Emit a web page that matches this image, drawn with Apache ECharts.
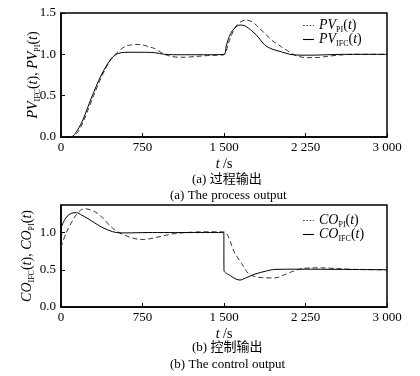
<!DOCTYPE html>
<html>
<head>
<meta charset="utf-8">
<script src="https://cdn.jsdelivr.net/npm/echarts@6/dist/echarts.min.js"></script>
<style>
  html, body { margin: 0; padding: 0; background: #fff; }
  #chart { width: 420px; height: 376px; }
</style>
</head>
<body>
<div id="chart"></div>
<script>
// [t (s), value]
var pvPi = [[0,0],[80,0],[100,0.005],[150,0.05],[200,0.17],[250,0.33],[300,0.5],[350,0.66],[400,0.8],[450,0.92],[500,1.0],[550,1.06],[600,1.1],[650,1.115],[700,1.12],[750,1.115],[800,1.095],[862,1.07],[900,1.04],[954,1.0],[1000,0.98],[1080,0.965],[1140,0.965],[1250,0.975],[1350,0.985],[1450,0.99],[1500,0.995],[1550,1.17],[1600,1.32],[1650,1.39],[1700,1.415],[1750,1.4],[1800,1.35],[1877,1.25],[1950,1.16],[2030,1.09],[2100,1.03],[2153,0.99],[2220,0.965],[2300,0.96],[2370,0.962],[2450,0.975],[2550,0.99],[2700,1.0],[3000,1.0]];
var pvIfc = [[0,0],[95,0],[150,0.08],[202,0.21],[279,0.47],[371,0.75],[463,0.95],[524,1.01],[586,1.024],[700,1.025],[862,1.02],[954,1.0],[1100,0.995],[1300,0.995],[1500,1.0],[1520,1.1],[1560,1.25],[1600,1.32],[1647,1.354],[1700,1.34],[1800,1.23],[1877,1.11],[1950,1.06],[2030,1.03],[2107,1.0],[2200,0.99],[2300,0.99],[2450,0.995],[2600,1.0],[3000,1.0]];
var coPi = [[0,0.8],[49,1.0],[126,1.21],[180,1.3],[218,1.32],[270,1.305],[340,1.254],[400,1.17],[463,1.075],[520,1.01],[586,0.964],[660,0.925],[739,0.906],[810,0.915],[893,0.94],[970,0.965],[1046,0.985],[1150,1.0],[1300,1.01],[1495,1.01],[1601,0.72],[1662,0.585],[1723,0.451],[1780,0.41],[1847,0.395],[1969,0.39],[2050,0.43],[2122,0.473],[2215,0.515],[2300,0.525],[2400,0.526],[2550,0.515],[2700,0.505],[3000,0.5]];
var coIfc = [[0,1.065],[30,1.16],[64,1.23],[100,1.26],[141,1.268],[190,1.235],[248,1.187],[310,1.13],[371,1.075],[440,1.03],[509,1.0],[600,0.995],[800,1.0],[1498,1.0],[1500,0.49],[1560,0.42],[1610,0.375],[1647,0.362],[1700,0.39],[1785,0.442],[1880,0.48],[1969,0.505],[2200,0.508],[2600,0.505],[3000,0.5]];
var xTicks = [0, 750, 1500, 2250, 3000];
var yTicks = [0, 0.5, 1.0, 1.5];

var serif = '"Liberation Serif", "Noto Sans CJK SC", serif';
var rich = {
  i: { fontFamily: serif, fontStyle: 'italic', fontSize: 14, color: '#000', lineHeight: 14 },
  n: { fontFamily: serif, fontSize: 14, color: '#000', lineHeight: 14 },
  s: { fontFamily: serif, fontSize: 8, color: '#000', lineHeight: 14, padding: [9, 0, 0, 0] }
};
function lbl(v, sub) {
  return '{i|' + v + '}{s|' + sub + '}{n|(}{i|t}{n|)}';
}
var legendText = {
  'PV_PI': lbl('PV', 'PI'), 'PV_IFC': lbl('PV', 'IFC'),
  'CO_PI': lbl('CO', 'PI'), 'CO_IFC': lbl('CO', 'IFC')
};
var dotIcon = 'path://M0,0h1.5v1h-1.5z M3,0h1.5v1h-1.5z M6,0h1.5v1h-1.5z M9,0h1v1h-1z';
var solidIcon = 'path://M0,0h10v1h-10z';

function xLabel(v) {
  var s = String(v);
  return s.length > 3 ? s.slice(0, s.length - 3) + ' ' + s.slice(-3) : s;
}

var chart = echarts.init(document.getElementById('chart'));

function xAxis(idx) {
  return {
    gridIndex: idx, type: 'value', min: 0, max: 3000, interval: 750,
    name: '{i|t}{n| /s}', nameLocation: 'middle', nameGap: 20,
    nameTextStyle: { rich: rich },
    axisLine: { lineStyle: { color: '#000', width: 1.5 } },
    axisTick: { inside: true, length: 4, lineStyle: { color: '#000' } },
    axisLabel: { formatter: xLabel, fontFamily: serif, fontSize: 13, color: '#000', margin: 4 },
    splitLine: { show: false }
  };
}
function yAxis(idx, max, name, gap) {
  return {
    gridIndex: idx, type: 'value', min: 0, max: max, interval: 0.5,
    name: name, nameLocation: 'middle', nameGap: gap, nameMoveOverlap: false,
    nameTextStyle: { rich: rich },
    axisLine: { lineStyle: { color: '#000', width: 1.5 } },
    axisTick: { inside: true, length: 4, lineStyle: { color: '#000' } },
    axisLabel: {
      formatter: function (v) { return v.toFixed(1); },
      fontFamily: serif, fontSize: 13, color: '#000', margin: 5,
      showMaxLabel: max === 1.5
    },
    splitLine: { show: false }
  };
}
function line(name, data, idx, dashed) {
  return {
    name: name, type: 'line', data: data, xAxisIndex: idx, yAxisIndex: idx,
    symbol: 'none', smooth: 0.3, animation: false,
    itemStyle: { color: dashed ? '#444' : '#000' },
    lineStyle: { color: dashed ? '#333' : '#000', width: 1, type: dashed ? [5, 3] : 'solid' }
  };
}
function legend(top, names) {
  return {
    data: [{ name: names[0], icon: dotIcon }, { name: names[1], icon: solidIcon }],
    orient: 'vertical', left: 298, top: top, itemGap: -3,
    itemWidth: 11, itemHeight: 1.2,
    formatter: function (n) { return legendText[n]; },
    textStyle: { rich: rich }
  };
}

chart.setOption({
  backgroundColor: '#fff',
  animation: false,
  grid: [
    { left: 61, top: 13, width: 326, height: 124, show: true, borderColor: '#000', borderWidth: 1.5 },
    { left: 61, top: 205, width: 326, height: 102, show: true, borderColor: '#000', borderWidth: 1.5 }
  ],
  legend: [
    legend(12, ['PV_PI', 'PV_IFC']),
    legend(207, ['CO_PI', 'CO_IFC'])
  ],
  xAxis: [xAxis(0), xAxis(1)],
  yAxis: [
    yAxis(0, 1.5, lbl('PV', 'IFC') + '{n|, }' + lbl('PV', 'PI'), 21),
    yAxis(1, 1.37, lbl('CO', 'IFC') + '{n|, }' + lbl('CO', 'PI'), 27)
  ],
  series: [
    line('PV_PI', pvPi, 0, true),
    line('PV_IFC', pvIfc, 0, false),
    line('CO_PI', coPi, 1, true),
    line('CO_IFC', coIfc, 1, false)
  ],
  graphic: [
    { type: 'text', left: 192, top: 173, style: { text: '(a) 过程输出', font: '13px ' + serif, fill: '#000' } },
    { type: 'text', left: 170, top: 189, style: { text: '(a) The process output', font: '13px ' + serif, fill: '#000' } },
    { type: 'text', left: 192, top: 341, style: { text: '(b) 控制输出', font: '13px ' + serif, fill: '#000' } },
    { type: 'text', left: 170, top: 358, style: { text: '(b) The control output', font: '13px ' + serif, fill: '#000' } }
  ]
});
</script>
</body>
</html>
